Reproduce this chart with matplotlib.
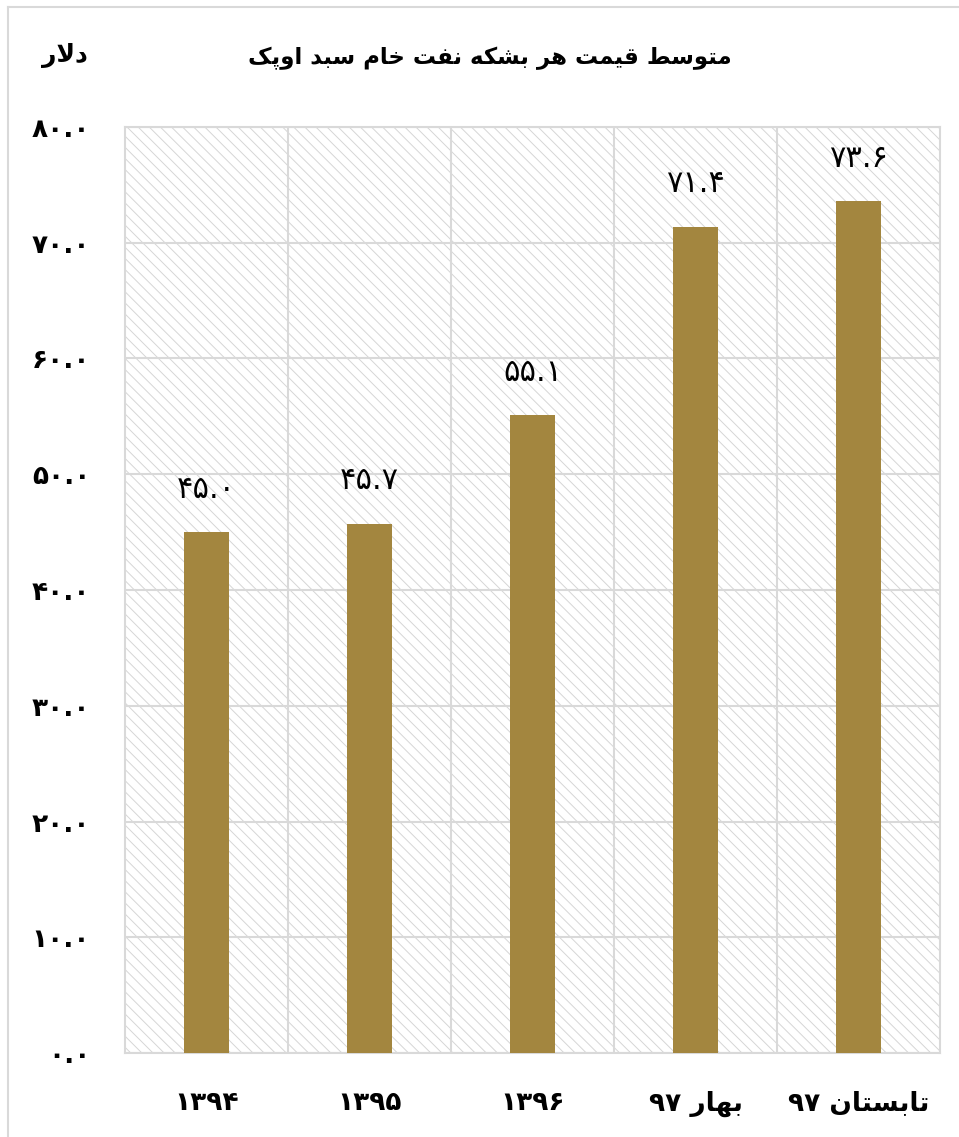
import matplotlib
matplotlib.use("Agg")
import matplotlib.pyplot as plt
from matplotlib.patches import Rectangle
from matplotlib.lines import Line2D

# data
seasons = ["", "", "", "بهار", "تابستان"]
years = ["۱۳۹۴", "۱۳۹۵", "۱۳۹۶", "۹۷", "۹۷"]
values = [45.0, 45.7, 55.1, 71.4, 73.6]
y_ticks = [0, 10, 20, 30, 40, 50, 60, 70, 80]
title = "متوسط قیمت هر بشکه نفت خام سبد اوپک"
unit = "دلار"

BAR_COLOR = "#a3863f"
GRID = "#d9d9d9"

# matplotlib has no arabic shaping, so pick presentation forms by hand
# (isolated, final, initial, medial)
FORMS = {
    "ا": ("\uFE8D", "\uFE8E", None, None),
    "ب": ("\uFE8F", "\uFE90", "\uFE91", "\uFE92"),
    "ت": ("\uFE95", "\uFE96", "\uFE97", "\uFE98"),
    "خ": ("\uFEA5", "\uFEA6", "\uFEA7", "\uFEA8"),
    "د": ("\uFEA9", "\uFEAA", None, None),
    "ر": ("\uFEAD", "\uFEAE", None, None),
    "س": ("\uFEB1", "\uFEB2", "\uFEB3", "\uFEB4"),
    "ش": ("\uFEB5", "\uFEB6", "\uFEB7", "\uFEB8"),
    "ط": ("\uFEC1", "\uFEC2", "\uFEC3", "\uFEC4"),
    "ف": ("\uFED1", "\uFED2", "\uFED3", "\uFED4"),
    "ق": ("\uFED5", "\uFED6", "\uFED7", "\uFED8"),
    "ل": ("\uFEDD", "\uFEDE", "\uFEDF", "\uFEE0"),
    "م": ("\uFEE1", "\uFEE2", "\uFEE3", "\uFEE4"),
    "ن": ("\uFEE5", "\uFEE6", "\uFEE7", "\uFEE8"),
    "ه": ("\uFEE9", "\uFEEA", "\uFEEB", "\uFEEC"),
    "و": ("\uFEED", "\uFEEE", None, None),
    "پ": ("\uFB56", "\uFB57", "\uFB58", "\uFB59"),
    "ک": ("\uFB8E", "\uFB8F", "\uFB90", "\uFB91"),
    "ی": ("\uFBFC", "\uFBFD", "\uFBFE", "\uFBFF"),
}


def shape_word(word):
    out = []
    i = 0
    n = len(word)
    while i < n:
        c = word[i]
        prev_joins = i > 0 and word[i - 1] in FORMS and FORMS[word[i - 1]][2] is not None
        if c == "ل" and i + 1 < n and word[i + 1] == "ا":
            out.append("\uFEFC" if prev_joins else "\uFEFB")
            i += 2
            continue
        iso, fin, ini, med = FORMS[c]
        next_letter = i + 1 < n and word[i + 1] in FORMS
        joins_next = ini is not None and next_letter
        if prev_joins and joins_next:
            out.append(med)
        elif prev_joins:
            out.append(fin)
        elif joins_next:
            out.append(ini)
        else:
            out.append(iso)
        i += 1
    return "".join(reversed(out))


def rtl(text):
    return " ".join(shape_word(w) for w in reversed(text.split(" ")))


def fa_num(x):
    return "".join("۰۱۲۳۴۵۶۷۸۹"[int(c)] if c.isdigit() else c for c in f"{x:.1f}")


# right-to-left: the year ends up on the left, the season word on the right
labels = [y + (" " + shape_word(s) if s else "") for s, y in zip(seasons, years)]

plt.rcParams["font.family"] = ["DejaVu Sans"]
plt.rcParams["hatch.linewidth"] = 0.7

fig = plt.figure(figsize=(9.59, 11.37), dpi=100)
ax = fig.add_axes([125 / 959, 84 / 1137, 815 / 959, 926 / 1137])

# hatched plot area
ax.add_patch(Rectangle((0, 0), 1, 1, transform=ax.transAxes, facecolor="white",
                       edgecolor="#d6d6d6", hatch="\\\\\\", lw=0, zorder=0))

x = list(range(len(values)))
ax.bar(x, values, width=0.27, color=BAR_COLOR, zorder=3)

for xi, v in zip(x, values):
    ax.annotate(fa_num(v), (xi, v), xytext=(0, 31), textcoords="offset points",
                ha="center", va="center", fontsize=22, zorder=4)

ax.set_xlim(-0.5, len(values) - 0.5)
ax.set_ylim(0, 80)
ax.set_yticks(y_ticks)
ax.set_yticklabels([fa_num(t) for t in y_ticks], fontsize=19, fontweight="bold")
ax.set_xticks(x)
ax.set_xticklabels(labels, fontsize=19, fontweight="bold")
ax.set_xticks([i + 0.5 for i in x[:-1]], minor=True)

ax.grid(axis="y", color=GRID, lw=1.5, zorder=1)
ax.grid(axis="x", which="minor", color=GRID, lw=1.5, zorder=1)
ax.tick_params(axis="both", which="both", length=0)
ax.tick_params(axis="y", pad=25)
ax.tick_params(axis="x", pad=27)
for s in ax.spines.values():
    s.set_color(GRID)
    s.set_linewidth(1.5)
ax.set_axisbelow(True)

fig.text(490 / 959, 1 - 58 / 1137, rtl(title), ha="center", va="center",
         fontsize=16.5, fontweight="bold")
fig.text(65 / 959, 1 - 55 / 1137, rtl(unit), ha="center", va="center",
         fontsize=18, fontweight="bold")

# outer chart border (top and left only visible)
fig.add_artist(Line2D([7.5 / 959, 1], [1 - 6.5 / 1137] * 2, color=GRID, lw=1.5))
fig.add_artist(Line2D([7.5 / 959] * 2, [0, 1 - 6.5 / 1137], color=GRID, lw=1.5))

fig.savefig("out.png", dpi=100)
